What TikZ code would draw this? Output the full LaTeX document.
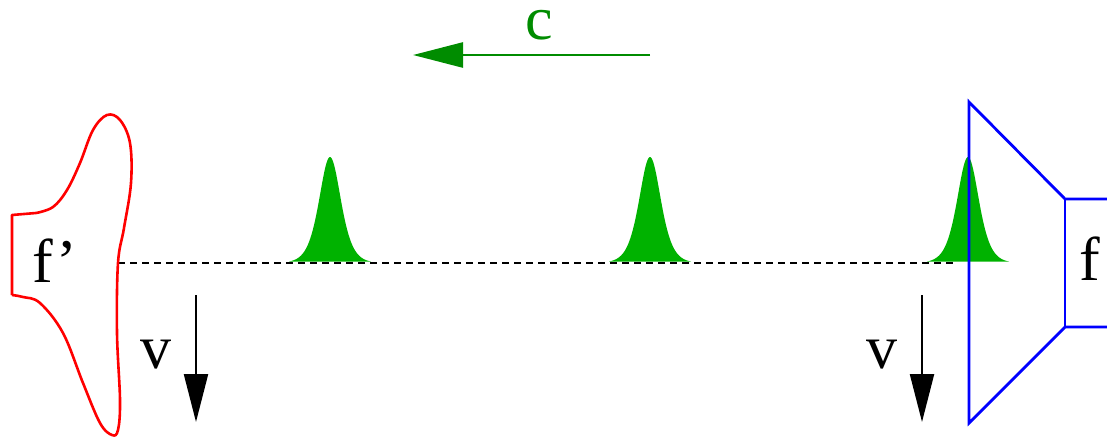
\documentclass[tikz,border=0pt]{standalone}
\usepackage{fontspec}
\setmainfont{Liberation Serif}
\newfontfamily\lblfont{Liberation Serif}
\usetikzlibrary{arrows.meta}
\definecolor{pulsegreen}{RGB}{0,178,0}
\definecolor{cgreen}{RGB}{0,140,0}
\begin{document}
\begin{tikzpicture}[x=1pt,y=-1pt,
  lbl/.style={font=\lblfont\fontsize{62}{62}\selectfont, inner sep=0pt, anchor=base},
  pulse/.style={fill=pulsegreen, draw=none},
  redshape/.style={draw=red, line width=2.6pt, line join=round},
  blueshape/.style={draw=blue, line width=2.8pt, line join=miter},
  velarrow/.style={draw=black, line width=2.2pt, -{Triangle[length=48pt,width=24pt]}},
  carrow/.style={draw=cgreen, line width=2.6pt, -{Triangle[length=50pt,width=25pt]}},
  axis/.style={draw=black, line width=1.1pt, dash pattern=on 7pt off 5pt}]
\useasboundingbox (0,0) rectangle (1107,437);
% pulses
\foreach \c in {330,650,968}{
  \fill[pulse] plot[domain=-41:41, samples=90, smooth] ({\c+\x},{263-106*4/(exp(\x/14.5)+exp(-\x/14.5))^2}) -- cycle;
}
% dashed axis
\coordinate (dl) at (118,263);
\coordinate (dr) at (955,263);
\draw[axis] (dl) -- (dr);
% red receiver shape
\draw[redshape] (12,295) -- (12,215) -- (36,213)
  plot[smooth, tension=0.6] coordinates {(36,213) (53,207) (67,190) (80,163) (93,130) (107,115) (120,120) (130,143) (131,183) (124,228) (118,263) (117,333) (120,400) (118,430) (112,435) (100,423) (83,383) (63,333) (40,303) (23,297) (12,295)};
% blue emitter shape
\coordinate (b1) at (969,102);
\coordinate (b2) at (969,423);
\coordinate (b3) at (1065,199);
\coordinate (b4) at (1065,327);
\coordinate (b5) at (1110,199);
\coordinate (b6) at (1110,327);
\draw[blueshape] (b5) -- (b3) -- (b1) -- (b2) -- (b4) -- (b6);
\draw[blueshape] (b3) -- (b4);
% labels
\node[lbl] (fp) at (55,282) {f’};
\node[lbl] (f) at (1090,280) {f};
\node[lbl] (v1) at (156,368) {v};
\node[lbl] (v2) at (882,368) {v};
\node[lbl, text=cgreen] (c) at (539,39) {c};
% velocity arrows
\coordinate (a1s) at (196,295);
\coordinate (a1e) at (196,422);
\coordinate (a2s) at (922,295);
\coordinate (a2e) at (922,422);
\draw[velarrow] (a1s) -- (a1e);
\draw[velarrow] (a2s) -- (a2e);
% c arrow
\coordinate (cs) at (650,55);
\coordinate (ce) at (413,55);
\draw[carrow] (cs) -- (ce);
\end{tikzpicture}
\end{document}
